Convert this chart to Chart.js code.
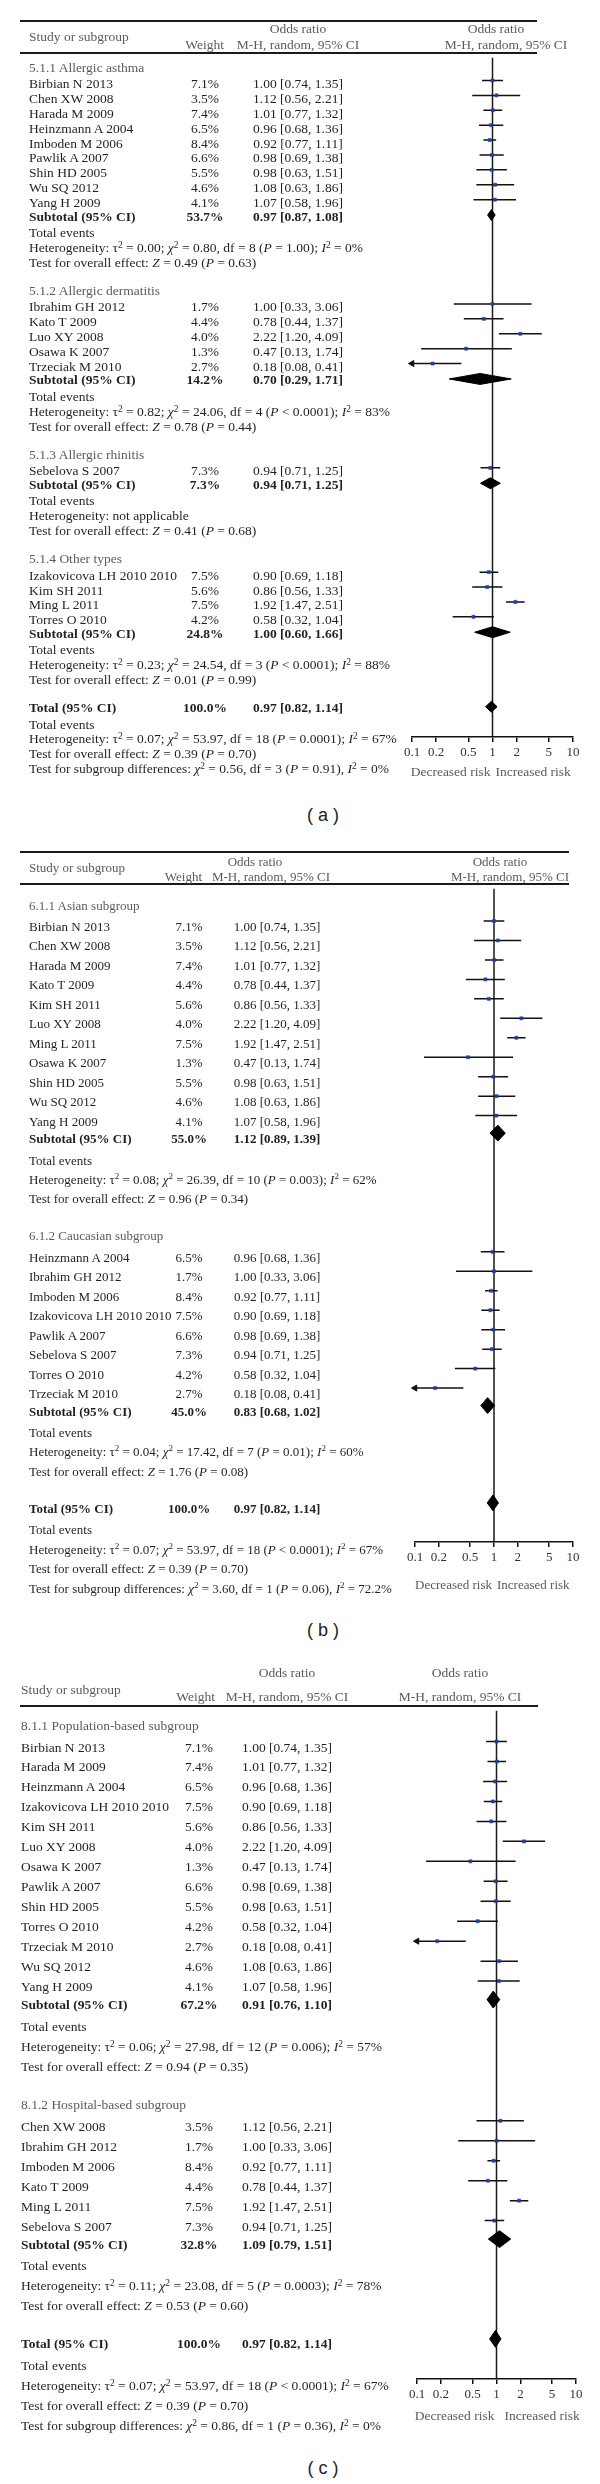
<!DOCTYPE html>
<html>
<head>
<meta charset="utf-8">
<title>Forest plots (a) (b) (c)</title>
<script src="https://cdn.jsdelivr.net/npm/chart.js@4.4.1/dist/chart.umd.min.js"></script>
<style>
  html, body { margin: 0; padding: 0; background: #fff; }
  body { position: relative; width: 600px; height: 2484px; overflow: hidden;
         font-family: "Liberation Serif", "DejaVu Serif", serif; color: #231f20; }
  .panel { position: absolute; left: 0; width: 600px; }
  .panel canvas { position: absolute; left: 0; top: 0; }
  .t { position: absolute; white-space: nowrap; line-height: 1; transform: translateY(-50%); }
  .t.c { transform: translate(-50%, -50%); }
  .t.r { transform: translate(-100%, -50%); }
  .t.b { font-weight: bold; }
  .t.g { color: #5b5b5b; }
  sup { font-size: 0.7em; line-height: 0; vertical-align: 0.5em; }
  .rule { position: absolute; height: 2px; background: #1a1a1a; }
  .cap { position: absolute; font-family: "Liberation Sans", Arial, sans-serif; font-size: 18px; color: #222;
         transform: translate(-50%, -50%); white-space: pre; }
</style>
</head>
<body>
<script>
// Study level odds ratios (same values are reused in all three panels)
const STUDIES = ["Birbian N 2013", "Chen XW 2008", "Harada M 2009", "Heinzmann A 2004", "Ibrahim GH 2012",
  "Imboden M 2006", "Izakovicova LH 2010 2010", "Kato T 2009", "Kim SH 2011", "Luo XY 2008", "Ming L 2011",
  "Osawa K 2007", "Pawlik A 2007", "Sebelova S 2007", "Shin HD 2005", "Torres O 2010", "Trzeciak M 2010",
  "Wu SQ 2012", "Yang H 2009"];
const WEIGHTS = [7.1, 3.5, 7.4, 6.5, 1.7, 8.4, 7.5, 4.4, 5.6, 4.0, 7.5, 1.3, 6.6, 7.3, 5.5, 4.2, 2.7, 4.6, 4.1];
const ODDS = [1.00, 1.12, 1.01, 0.96, 1.00, 0.92, 0.90, 0.78, 0.86, 2.22, 1.92, 0.47, 0.98, 0.94, 0.98, 0.58, 0.18, 1.08, 1.07];
const CI_LOW = [0.74, 0.56, 0.77, 0.68, 0.33, 0.77, 0.69, 0.44, 0.56, 1.20, 1.47, 0.13, 0.69, 0.71, 0.63, 0.32, 0.08, 0.63, 0.58];
const CI_HIGH = [1.35, 2.21, 1.32, 1.36, 3.06, 1.11, 1.18, 1.37, 1.33, 4.09, 2.51, 1.74, 1.38, 1.25, 1.51, 1.04, 0.41, 1.86, 1.96];
const TICKS = [0.1, 0.2, 0.5, 1, 2, 5, 10];
const TOTAL_OR = [0.97, 0.82, 1.14];
const TOTAL_WEIGHT = 100.0;

// (a) by type of allergic disease
const A_LABELS = ["5.1.1 Allergic asthma", "5.1.2 Allergic dermatitis", "5.1.3 Allergic rhinitis", "5.1.4 Other types"];
const A_STUDIES = [
  ["Birbian N 2013", "Chen XW 2008", "Harada M 2009", "Heinzmann A 2004", "Imboden M 2006", "Pawlik A 2007", "Shin HD 2005", "Wu SQ 2012", "Yang H 2009"],
  ["Ibrahim GH 2012", "Kato T 2009", "Luo XY 2008", "Osawa K 2007", "Trzeciak M 2010"],
  ["Sebelova S 2007"],
  ["Izakovicova LH 2010 2010", "Kim SH 2011", "Ming L 2011", "Torres O 2010"]];
const A_SUB_WEIGHT = [53.7, 14.2, 7.3, 24.8];
const A_SUB_OR = [0.97, 0.70, 0.94, 1.00];
const A_SUB_LOW = [0.87, 0.29, 0.71, 0.60];
const A_SUB_HIGH = [1.08, 1.71, 1.25, 1.66];
const A_HET = [["0.00", "0.80", 8, "= 1.00", 0], ["0.82", "24.06", 4, "< 0.0001", 83], null, ["0.23", "24.54", 3, "< 0.0001", 88]];
const A_Z = [["0.49", "0.63"], ["0.78", "0.44"], ["0.41", "0.68"], ["0.01", "0.99"]];
const A_TOTAL_HET = ["0.07", "53.97", 18, "= 0.0001", 67];
const A_SUBGROUP = ["0.56", 3, "0.91", "0"];

// (b) by ethnicity
const B_LABELS = ["6.1.1 Asian subgroup", "6.1.2 Caucasian subgroup"];
const B_STUDIES = [
  ["Birbian N 2013", "Chen XW 2008", "Harada M 2009", "Kato T 2009", "Kim SH 2011", "Luo XY 2008", "Ming L 2011", "Osawa K 2007", "Shin HD 2005", "Wu SQ 2012", "Yang H 2009"],
  ["Heinzmann A 2004", "Ibrahim GH 2012", "Imboden M 2006", "Izakovicova LH 2010 2010", "Pawlik A 2007", "Sebelova S 2007", "Torres O 2010", "Trzeciak M 2010"]];
const B_SUB_WEIGHT = [55.0, 45.0];
const B_SUB_OR = [1.12, 0.83];
const B_SUB_LOW = [0.89, 0.68];
const B_SUB_HIGH = [1.39, 1.02];
const B_HET = [["0.08", "26.39", 10, "= 0.003", 62], ["0.04", "17.42", 7, "= 0.01", 60]];
const B_Z = [["0.96", "0.34"], ["1.76", "0.08"]];
const B_TOTAL_HET = ["0.07", "53.97", 18, "< 0.0001", 67];
const B_SUBGROUP = ["3.60", 1, "0.06", "72.2"];

// (c) by source of controls
const C_LABELS = ["8.1.1 Population-based subgroup", "8.1.2 Hospital-based subgroup"];
const C_STUDIES = [
  ["Birbian N 2013", "Harada M 2009", "Heinzmann A 2004", "Izakovicova LH 2010 2010", "Kim SH 2011", "Luo XY 2008", "Osawa K 2007", "Pawlik A 2007", "Shin HD 2005", "Torres O 2010", "Trzeciak M 2010", "Wu SQ 2012", "Yang H 2009"],
  ["Chen XW 2008", "Ibrahim GH 2012", "Imboden M 2006", "Kato T 2009", "Ming L 2011", "Sebelova S 2007"]];
const C_SUB_WEIGHT = [67.2, 32.8];
const C_SUB_OR = [0.91, 1.09];
const C_SUB_LOW = [0.76, 0.79];
const C_SUB_HIGH = [1.10, 1.51];
const C_HET = [["0.06", "27.98", 12, "= 0.006", 57], ["0.11", "23.08", 5, "= 0.0003", 78]];
const C_Z = [["0.94", "0.35"], ["0.53", "0.60"]];
const C_TOTAL_HET = ["0.07", "53.97", 18, "< 0.0001", 67];
const C_SUBGROUP = ["0.86", 1, "0.36", "0"];

const TOTAL_Z = ["0.39", "0.70"];

// page geometry of each panel (page pixels)
const LAYOUT = [
  { cap: "( a )", top: 0, topRule: 21, headRule: 53, ruleRight: 537, axisY: 737, pitch: 15, firstGap: 10, font: 13.5,
    labelX: 29, weightX: 205, orX: 298, headY: [29, 45, 37], weightHeadR: 224, midHeadX: 298, mhHeadX: 298,
    rightHeadX: 496, rightMhX: 506, x01: 412, x10: 573, riskY: 772, riskGap: [2, 3], capY: 815,
    whiskerDy: 3.5, diamondDy: 1.5, diamondH: 5.5 },
  { cap: "( b )", top: 840, topRule: 852, headRule: 884, ruleRight: 569, axisY: 1542, pitch: 19.6, firstGap: 16, font: 13,
    labelX: 29, weightX: 189, orX: 277, headY: [861, 876, 867], weightHeadR: 202, midHeadX: 255, mhHeadX: 271,
    rightHeadX: 500, rightMhX: 510, x01: 415, x10: 573, riskY: 1584, riskGap: [2, 3], capY: 1630,
    whiskerDy: 5, diamondDy: 5, diamondH: 8 },
  { cap: "( c )", top: 1660, topRule: null, headRule: 1706, ruleRight: 538, axisY: 2379, pitch: 20.1, firstGap: 15, font: 13.5,
    labelX: 21, weightX: 199, orX: 287, headY: [1673, 1697, 1690], weightHeadR: 215, midHeadX: 287, mhHeadX: 287,
    rightHeadX: 460, rightMhX: 460, x01: 417, x10: 576, riskY: 2416, riskGap: [2, 8], capY: 2468,
    whiskerDy: 6, diamondDy: 5.5, diamondH: 8.5 }
];

const fmt = v => v.toFixed(2);
const orText = (o, l, h) => `${fmt(o)} [${fmt(l)}, ${fmt(h)}]`;
const hetText = h => h ? `Heterogeneity: τ<sup>2</sup> = ${h[0]}; <i>χ</i><sup>2</sup> = ${h[1]}, df = ${h[2]} (<i>P</i> ${h[3]}); <i>I</i><sup>2</sup> = ${h[4]}%`
  : "Heterogeneity: not applicable";
const zText = z => `Test for overall effect: <i>Z</i> = ${z[0]} (<i>P</i> = ${z[1]})`;
const sgText = s => `Test for subgroup differences: <i>χ</i><sup>2</sup> = ${s[0]}, df = ${s[1]} (<i>P</i> = ${s[2]}), <i>I</i><sup>2</sup> = ${s[3]}%`;

function groupsOf(labels, studies, w, o, lo, hi, het, z) {
  return labels.map((label, g) => ({ label, studies: studies[g], w: w[g], o: o[g], lo: lo[g], hi: hi[g], het: het[g], z: z[g] }));
}

// stack the rows of one panel: each row gets a y (page pixels) from the row pitch
function layoutRows(L, groups, totalHet, subgroup) {
  const P = L.pitch, rows = [];
  let y = L.headRule + L.firstGap;
  groups.forEach((g, gi) => {
    if (gi) y += 1.9 * P;
    rows.push({ kind: "group", y, html: g.label });
    g.studies.forEach((name, k) => {
      y += (k ? 1 : 1.1) * P;
      const i = STUDIES.indexOf(name);
      rows.push({ kind: "study", y, html: name, w: WEIGHTS[i], o: ODDS[i], lo: CI_LOW[i], hi: CI_HIGH[i] });
    });
    y += 0.9 * P; rows.push({ kind: "sub", y, html: "Subtotal (95% CI)", w: g.w, o: g.o, lo: g.lo, hi: g.hi });
    y += 1.1 * P; rows.push({ kind: "note", y, html: "Total events" });
    y += P; rows.push({ kind: "note", y, html: hetText(g.het) });
    y += P; rows.push({ kind: "note", y, html: zText(g.z) });
  });
  y += 1.9 * P; rows.push({ kind: "sub", y, html: "Total (95% CI)", w: TOTAL_WEIGHT, o: TOTAL_OR[0], lo: TOTAL_OR[1], hi: TOTAL_OR[2] });
  y += 1.1 * P; rows.push({ kind: "note", y, html: "Total events" });
  y += P; rows.push({ kind: "note", y, html: hetText(totalHet) });
  y += P; rows.push({ kind: "note", y, html: zText(TOTAL_Z) });
  y += P; rows.push({ kind: "note", y, html: sgText(subgroup) });
  return rows;
}

function addText(parent, x, y, html, cls) {
  const d = document.createElement("div");
  d.className = "t " + (cls || "");
  d.style.left = x + "px";
  d.style.top = y + "px";
  d.innerHTML = html;
  parent.appendChild(d);
  return d;
}
function addRule(parent, y, x0, x1) {
  const d = document.createElement("div");
  d.className = "rule";
  Object.assign(d.style, { left: x0 + "px", width: (x1 - x0) + "px", top: (y - 1) + "px" });
  parent.appendChild(d);
}

function renderPanel(L, rows) {
  const H = L.axisY - L.top + 45;
  const wrap = document.createElement("div");
  wrap.className = "panel";
  wrap.style.top = L.top + "px";
  wrap.style.height = (L.capY - L.top + 20) + "px";
  wrap.style.fontSize = L.font + "px";
  document.body.appendChild(wrap);
  const canvas = document.createElement("canvas");
  canvas.width = 600; canvas.height = H;
  canvas.style.width = "600px"; canvas.style.height = H + "px";
  wrap.appendChild(canvas);

  const studies = rows.filter(r => r.kind === "study");
  const subs = rows.filter(r => r.kind === "sub");
  const xmin = TICKS[0];
  const whiskers = studies.flatMap(r => [{ x: Math.max(r.lo, xmin), y: r.y - L.whiskerDy }, { x: r.hi, y: r.y - L.whiskerDy }, { x: null, y: null }]);
  const squares = studies.map(r => ({ x: r.o, y: r.y - L.whiskerDy }));
  const arrows = studies.filter(r => r.lo < xmin).map(r => ({ x: xmin, y: r.y - L.whiskerDy }));
  const diamonds = subs.map(r => {
    const y = r.y - L.diamondDy, h = L.diamondH;
    return {
      data: [{ x: r.lo, y }, { x: r.o, y: y - h }, { x: r.hi, y }, { x: r.o, y: y + h }, { x: r.lo, y }],
      showLine: true, fill: "shape", tension: 0, backgroundColor: "#000", borderColor: "#000",
      borderWidth: 1, pointRadius: 0, clip: false, order: 0
    };
  });

  const chart = new Chart(canvas, {
    type: "scatter",
    data: {
      datasets: [
        { data: [{ x: 1, y: L.headRule }, { x: 1, y: L.axisY }], showLine: true, borderColor: "#1a1a1a",
          borderWidth: 1.5, pointRadius: 0, clip: false, order: 4 },
        { data: whiskers, showLine: true, spanGaps: false, borderColor: "#111", borderWidth: 1.5,
          pointRadius: 0, clip: false, order: 3 },
        { data: squares, pointStyle: "rect", pointRadius: 2.2, pointBackgroundColor: "#1f3f9a",
          pointBorderColor: "#1f3f9a", pointBorderWidth: 0.5, clip: false, order: 2 },
        { data: arrows, pointStyle: "triangle", pointRotation: -90, pointRadius: 3.5,
          pointBackgroundColor: "#111", pointBorderColor: "#111", clip: false, order: 2 },
        ...diamonds
      ]
    },
    options: {
      responsive: false, animation: false, events: [],
      layout: { padding: { left: L.x01, right: 600 - L.x10, top: 0, bottom: 0 } },
      plugins: { legend: { display: false }, tooltip: { enabled: false } },
      scales: {
        x: {
          type: "logarithmic", position: "bottom", min: TICKS[0], max: TICKS[TICKS.length - 1],
          afterBuildTicks: s => { s.ticks = TICKS.map(v => ({ value: v })); },
          afterFit: s => { s.height = 45; },
          ticks: { callback: v => String(v), autoSkip: false, maxRotation: 0, padding: 3, color: "#333",
                   font: { family: "Liberation Serif", size: 13 } },
          grid: { drawOnChartArea: false, drawTicks: true, tickLength: 5, color: "#111", lineWidth: 1.5 },
          border: { display: true, color: "#111", width: 1.5 }
        },
        y: { type: "linear", min: L.top, max: L.axisY, reverse: true, display: false }
      }
    }
  });

  const ys = chart.scales.y, xs = chart.scales.x;
  const rel = v => v - L.top;

  // table header
  if (L.topRule !== null) addRule(wrap, rel(L.topRule), 20, L.ruleRight);
  addRule(wrap, rel(L.headRule), 20, L.ruleRight);
  addText(wrap, L.labelX, rel(L.headY[2]), "Study or subgroup", "g");
  addText(wrap, L.midHeadX, rel(L.headY[0]), "Odds ratio", "c g");
  addText(wrap, L.weightHeadR, rel(L.headY[1]), "Weight", "r g");
  addText(wrap, L.mhHeadX, rel(L.headY[1]), "M-H, random, 95% CI", "c g");
  addText(wrap, L.rightHeadX, rel(L.headY[0]), "Odds ratio", "c g");
  addText(wrap, L.rightMhX, rel(L.headY[1]), "M-H, random, 95% CI", "c g");

  // rows, placed through the chart's own y scale
  rows.forEach(r => {
    const y = ys.getPixelForValue(r.y);
    const bold = r.kind === "sub" ? "b" : "";
    addText(wrap, L.labelX, y, r.html, r.kind === "group" ? "g" : bold);
    if (r.w !== undefined) {
      addText(wrap, L.weightX, y, r.w.toFixed(1) + "%", "c " + bold);
      addText(wrap, L.orX, y, orText(r.o, r.lo, r.hi), "c " + bold);
    }
  });

  const x1 = xs.getPixelForValue(1);
  addText(wrap, x1 - L.riskGap[0], rel(L.riskY), "Decreased risk", "r g");
  addText(wrap, x1 + L.riskGap[1], rel(L.riskY), "Increased risk", "g");

  const cap = document.createElement("div");
  cap.className = "cap";
  cap.style.left = "323px";
  cap.style.top = rel(L.capY) + "px";
  cap.textContent = L.cap;
  wrap.appendChild(cap);
}

const PANEL_DATA = [
  [groupsOf(A_LABELS, A_STUDIES, A_SUB_WEIGHT, A_SUB_OR, A_SUB_LOW, A_SUB_HIGH, A_HET, A_Z), A_TOTAL_HET, A_SUBGROUP],
  [groupsOf(B_LABELS, B_STUDIES, B_SUB_WEIGHT, B_SUB_OR, B_SUB_LOW, B_SUB_HIGH, B_HET, B_Z), B_TOTAL_HET, B_SUBGROUP],
  [groupsOf(C_LABELS, C_STUDIES, C_SUB_WEIGHT, C_SUB_OR, C_SUB_LOW, C_SUB_HIGH, C_HET, C_Z), C_TOTAL_HET, C_SUBGROUP]
];

LAYOUT.forEach((L, i) => renderPanel(L, layoutRows(L, ...PANEL_DATA[i])));
</script>
</body>
</html>
